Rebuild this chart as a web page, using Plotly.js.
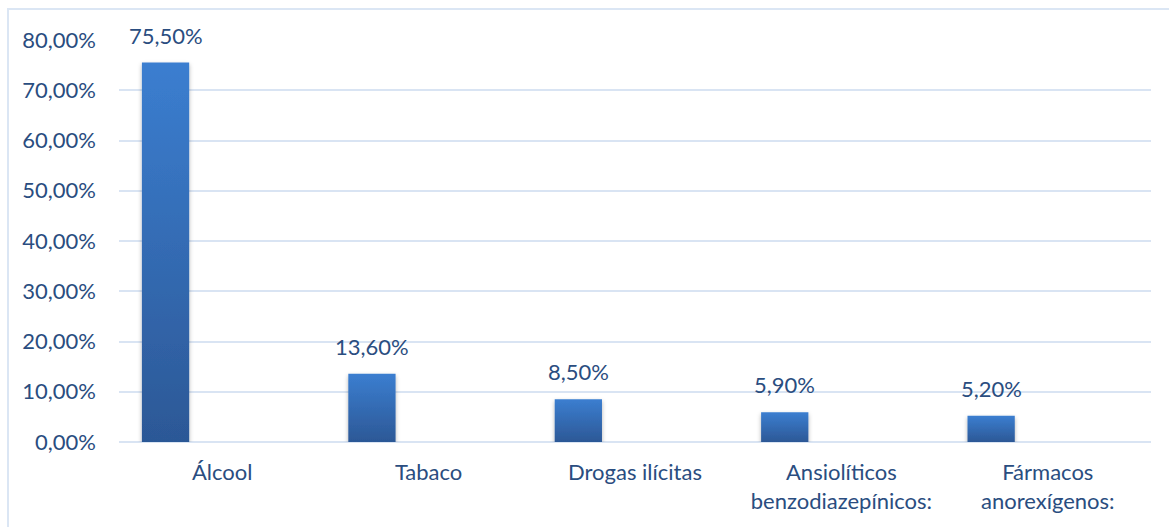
<!DOCTYPE html>
<html>
<head>
<meta charset="utf-8">
<script src="https://cdn.plot.ly/plotly-3.0.1.min.js"></script>
<style>
html,body{margin:0;padding:0;background:#fff;overflow:hidden;}
#wrap{position:relative;width:1169px;height:527px;}
#chart{position:absolute;left:0;top:0;width:1169px;height:527px;}
#frame{position:absolute;left:7px;top:8px;width:1200px;height:600px;border:2px solid #dbe6f4;pointer-events:none;box-sizing:border-box;}
</style>
</head>
<body>
<div id="wrap"><div id="chart"></div><div id="frame"></div></div>
<script>
const categories = ["Álcool", "Tabaco", "Drogas ilícitas", "Ansiolíticos<br>benzodiazepínicos:", "Fármacos<br>anorexígenos:"];
const values = [75.5, 13.6, 8.5, 5.9, 5.2];
const valueLabels = ["75,50%", "13,60%", "8,50%", "5,90%", "5,20%"];
const yTicks = [0, 10, 20, 30, 40, 50, 60, 70, 80];
const yTickLabels = ["0,00%", "10,00%", "20,00%", "30,00%", "40,00%", "50,00%", "60,00%", "70,00%", "80,00%"];

const textColor = "#2a4d80";
const font = {family: "Lato, 'Noto Sans', sans-serif", size: 22, color: textColor};
const barOffset = -0.389, barWidth = 0.229;

const trace = {
  type: "bar",
  x: categories,
  y: values,
  offset: barOffset,
  width: barWidth,
  marker: {color: "#3470b8", line: {width: 0}},
  hoverinfo: "skip"
};

const annotations = values.map((v, i) => ({
  x: i + barOffset + barWidth / 2,
  y: v,
  xref: "x", yref: "y",
  text: valueLabels[i],
  showarrow: false,
  yanchor: "bottom",
  yshift: 12,
  font: font
}));

const layout = {
  width: 1169, height: 527,
  margin: {l: 119, r: 18, t: 40, b: 85},
  paper_bgcolor: "#fff", plot_bgcolor: "#fff",
  separators: ",.",
  showlegend: false,
  font: font,
  xaxis: {
    type: "category",
    showgrid: false, zeroline: false, showline: false,
    ticks: "", tickfont: font,
    ticklabelstandoff: 15
  },
  yaxis: {
    range: [0, 80],
    tickmode: "array",
    tickvals: yTicks,
    ticktext: yTickLabels,
    showgrid: true, gridcolor: "#d9e4f3", gridwidth: 2,
    zeroline: true, zerolinecolor: "#d9e4f3", zerolinewidth: 2,
    showline: false, ticks: "",
    tickfont: font,
    ticklabelstandoff: 22
  },
  annotations: annotations
};

Plotly.newPlot("chart", [trace], layout, {staticPlot: true, displayModeBar: false}).then(gd => {
  const svg = gd.querySelector("svg.main-svg");
  const ns = "http://www.w3.org/2000/svg";
  let defs = svg.querySelector("defs");
  if (!defs) { defs = document.createElementNS(ns, "defs"); svg.insertBefore(defs, svg.firstChild); }
  const g = document.createElementNS(ns, "linearGradient");
  g.setAttribute("id", "barGrad");
  g.setAttribute("x1", "0"); g.setAttribute("y1", "0"); g.setAttribute("x2", "0"); g.setAttribute("y2", "1");
  [["0", "#3b7ed0"], ["1", "#2c5896"]].forEach(([o, c]) => {
    const s = document.createElementNS(ns, "stop");
    s.setAttribute("offset", o); s.setAttribute("stop-color", c);
    g.appendChild(s);
  });
  defs.appendChild(g);
  const f = document.createElementNS(ns, "filter");
  f.setAttribute("id", "barShadow");
  f.setAttribute("x", "-20%"); f.setAttribute("y", "-5%"); f.setAttribute("width", "140%"); f.setAttribute("height", "115%");
  f.innerHTML = '<feDropShadow dx="0" dy="2" stdDeviation="2" flood-color="#000" flood-opacity="0.3"/>';
  defs.appendChild(f);
  gd.querySelectorAll(".bars .point path").forEach(p => {
    p.style.fill = "url(#barGrad)";
    p.setAttribute("filter", "url(#barShadow)");
  });
});
</script>
</body>
</html>
